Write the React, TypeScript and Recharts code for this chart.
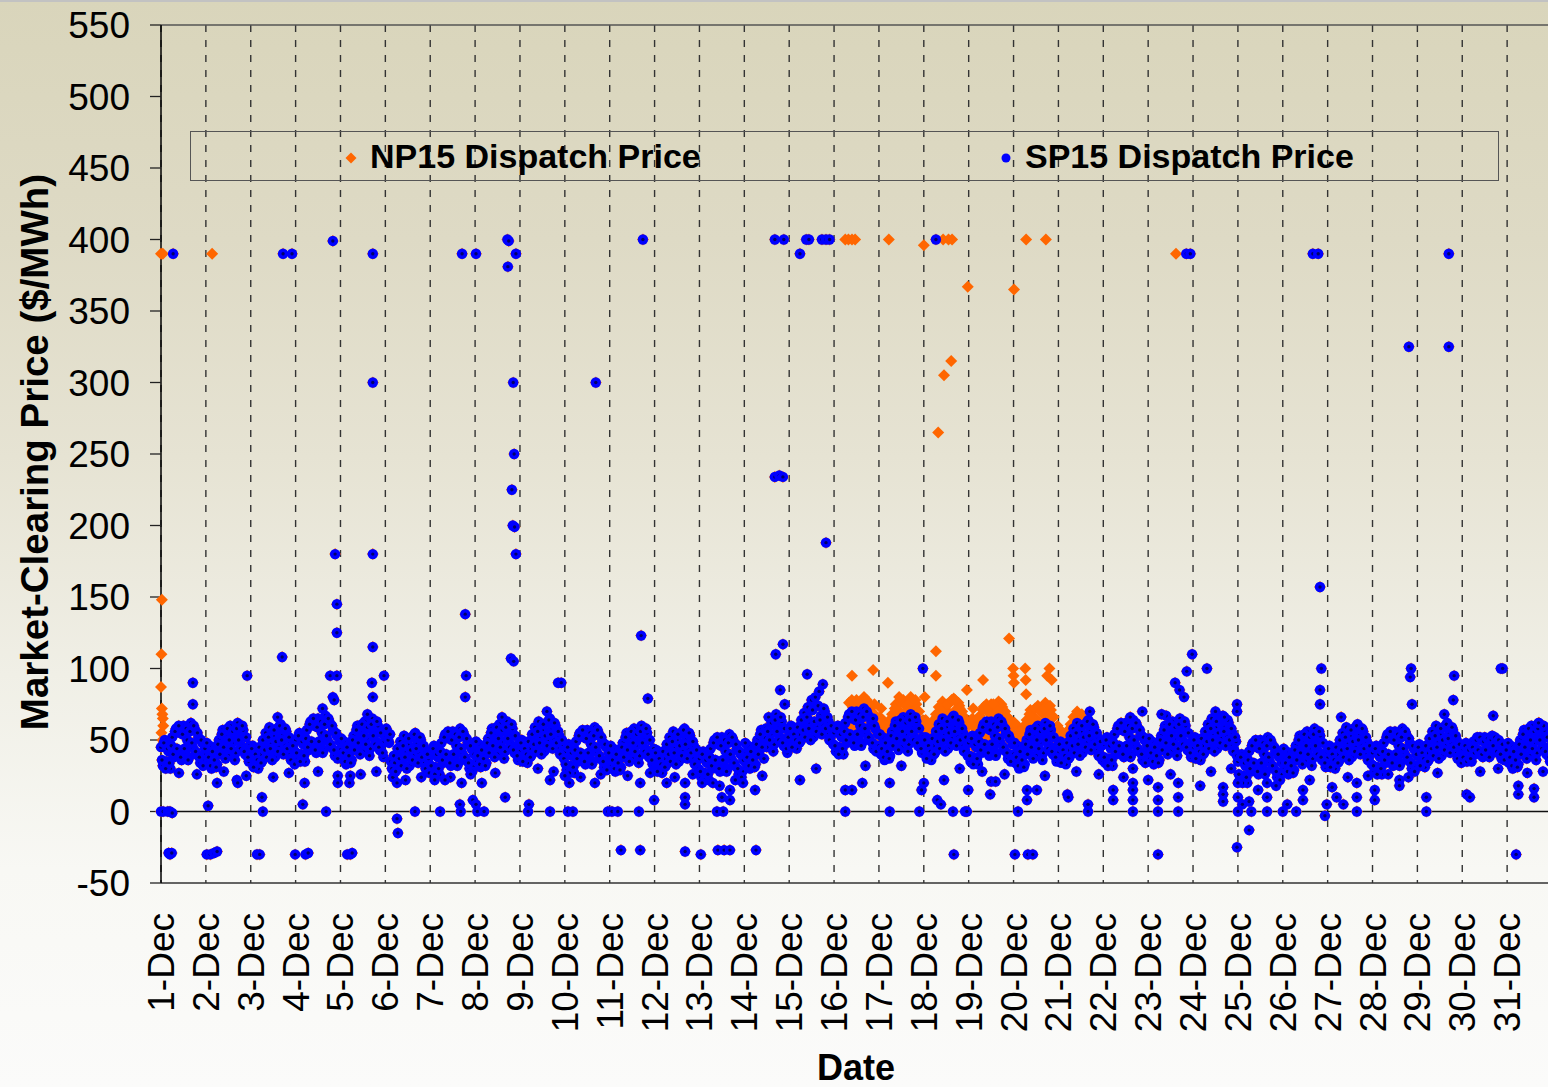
import { CartesianGrid, ReferenceLine, Scatter, ScatterChart, XAxis, YAxis } from "recharts";

const FONT = '"Liberation Sans", Arial, sans-serif';

const dayLabels = [
  "1-Dec", "2-Dec", "3-Dec", "4-Dec", "5-Dec", "6-Dec", "7-Dec", "8-Dec", "9-Dec", "10-Dec",
  "11-Dec", "12-Dec", "13-Dec", "14-Dec", "15-Dec", "16-Dec", "17-Dec", "18-Dec", "19-Dec", "20-Dec",
  "21-Dec", "22-Dec", "23-Dec", "24-Dec", "25-Dec", "26-Dec", "27-Dec", "28-Dec", "29-Dec", "30-Dec", "31-Dec",
];
const dayTicks = [1, 2, 3, 4, 5, 6, 7, 8, 9, 10, 11, 12, 13, 14, 15, 16, 17, 18, 19, 20, 21, 22, 23, 24, 25, 26, 27, 28, 29, 30, 31];
const priceTicks = [-50, 0, 50, 100, 150, 200, 250, 300, 350, 400, 450, 500, 550];

// SP15 dispatch price at the top of each hour, one row per day (hours 0..23)
const sp15OnHour: number[][] = [
  [45, 32, 50, 35, 42, 30, 52, 38, 58, 40, 55, 36, 60, 42, 50, 38, 62, 45, 58, 40, 52, 34, 48, 36],
  [40, 34, 46, 30, 38, 44, 33, 50, 42, 57, 46, 52, 39, 60, 48, 55, 41, 62, 52, 46, 57, 40, 44, 35],
  [38, 46, 33, 41, 30, 40, 35, 48, 55, 42, 59, 47, 53, 38, 58, 45, 61, 53, 47, 56, 41, 49, 37, 43],
  [50, 37, 55, 40, 47, 35, 57, 43, 63, 45, 60, 41, 65, 47, 55, 43, 67, 50, 63, 45, 57, 39, 53, 41],
  [43, 37, 49, 33, 41, 47, 36, 53, 45, 60, 49, 55, 42, 63, 51, 58, 44, 65, 55, 49, 60, 43, 47, 38],
  [52, 56, 48, 35, 24, 34, 29, 42, 49, 36, 53, 41, 47, 32, 52, 39, 55, 47, 41, 50, 35, 43, 31, 37],
  [41, 28, 46, 31, 38, 26, 48, 34, 54, 36, 51, 32, 56, 38, 46, 34, 58, 41, 54, 36, 48, 30, 44, 32],
  [41, 35, 47, 31, 39, 45, 34, 51, 43, 58, 47, 53, 40, 61, 49, 56, 42, 63, 53, 47, 58, 41, 45, 36],
  [42, 50, 37, 45, 34, 44, 39, 52, 59, 46, 63, 51, 57, 42, 62, 49, 65, 57, 51, 60, 45, 53, 41, 47],
  [42, 29, 47, 32, 39, 27, 49, 35, 55, 37, 52, 33, 57, 39, 47, 35, 59, 42, 55, 37, 49, 31, 45, 33],
  [38, 32, 44, 28, 36, 42, 31, 48, 40, 55, 44, 50, 37, 58, 46, 53, 39, 60, 50, 44, 55, 38, 42, 33],
  [35, 43, 30, 38, 27, 37, 32, 45, 52, 39, 56, 44, 50, 35, 55, 42, 58, 50, 44, 53, 38, 46, 34, 40],
  [37, 24, 42, 27, 34, 22, 44, 30, 50, 32, 47, 28, 52, 34, 42, 30, 54, 37, 50, 32, 44, 26, 40, 28],
  [40, 34, 46, 30, 38, 44, 33, 50, 42, 57, 46, 52, 45, 66, 54, 61, 47, 68, 58, 52, 63, 46, 50, 41],
  [52, 60, 47, 55, 44, 54, 49, 62, 69, 56, 73, 61, 78, 52, 80, 59, 84, 67, 61, 70, 55, 63, 51, 57],
  [55, 42, 60, 45, 52, 40, 62, 48, 68, 50, 65, 46, 70, 52, 60, 48, 72, 55, 68, 50, 62, 44, 58, 46],
  [46, 40, 52, 36, 44, 50, 39, 56, 48, 63, 52, 58, 45, 66, 54, 61, 47, 68, 58, 52, 63, 46, 50, 41],
  [44, 52, 39, 47, 36, 46, 41, 54, 61, 48, 65, 53, 59, 44, 64, 51, 67, 59, 53, 62, 47, 55, 43, 49],
  [48, 35, 53, 38, 45, 33, 55, 41, 61, 43, 58, 39, 63, 45, 53, 41, 65, 48, 61, 43, 55, 37, 51, 39],
  [40, 34, 46, 30, 38, 44, 33, 50, 42, 57, 46, 52, 39, 60, 48, 55, 41, 62, 52, 46, 57, 40, 44, 35],
  [41, 49, 36, 44, 33, 43, 38, 51, 58, 45, 62, 50, 56, 41, 61, 48, 64, 56, 50, 59, 44, 52, 40, 46],
  [47, 34, 52, 37, 44, 32, 54, 40, 60, 42, 57, 38, 62, 44, 52, 40, 64, 47, 60, 42, 54, 36, 50, 38],
  [43, 37, 49, 33, 41, 47, 36, 53, 45, 60, 49, 55, 42, 63, 51, 58, 44, 65, 55, 49, 60, 43, 47, 38],
  [44, 52, 39, 47, 36, 46, 41, 54, 61, 48, 65, 53, 59, 44, 64, 51, 67, 59, 53, 62, 47, 55, 43, 49],
  [35, 22, 40, 25, 32, 20, 42, 28, 48, 30, 45, 26, 50, 32, 40, 28, 52, 35, 48, 30, 42, 24, 38, 26],
  [36, 30, 42, 26, 34, 40, 29, 46, 38, 53, 42, 48, 35, 56, 44, 51, 37, 58, 48, 42, 53, 36, 40, 31],
  [38, 46, 33, 41, 30, 40, 35, 48, 55, 42, 59, 47, 53, 38, 58, 45, 61, 53, 47, 56, 41, 49, 37, 43],
  [41, 28, 46, 31, 38, 26, 48, 34, 54, 36, 51, 32, 56, 38, 46, 34, 58, 41, 54, 36, 48, 30, 44, 32],
  [39, 47, 34, 42, 31, 41, 36, 49, 56, 43, 60, 48, 54, 39, 59, 46, 62, 54, 48, 57, 42, 50, 38, 44],
  [44, 36, 48, 38, 42, 35, 49, 40, 52, 41, 50, 38, 52, 42, 48, 40, 53, 44, 51, 41, 48, 37, 46, 38],
  [40, 34, 46, 30, 38, 44, 33, 50, 42, 57, 46, 52, 39, 60, 48, 55, 41, 62, 52, 46, 57, 40, 44, 35],
];

// SP15 dispatch price at half past each hour
const sp15HalfHour: number[][] = [
  [36, 48, 30, 44, 34, 46, 40, 56, 44, 60, 38, 54, 44, 58, 36, 56, 48, 60, 42, 55, 38, 50, 32, 44],
  [48, 38, 32, 42, 36, 31, 47, 40, 54, 45, 37, 58, 50, 44, 56, 36, 58, 50, 44, 60, 42, 52, 38, 46],
  [44, 31, 40, 36, 45, 34, 50, 43, 38, 52, 44, 36, 57, 49, 42, 60, 50, 40, 58, 44, 52, 36, 46, 33],
  [41, 53, 35, 49, 39, 51, 45, 61, 49, 65, 43, 59, 49, 63, 41, 61, 53, 65, 47, 60, 43, 55, 37, 49],
  [51, 41, 35, 45, 39, 34, 50, 43, 57, 48, 40, 61, 53, 47, 59, 39, 61, 53, 47, 63, 45, 55, 41, 49],
  [58, 50, 54, 30, 39, 28, 44, 37, 32, 46, 38, 30, 51, 43, 36, 54, 44, 34, 52, 38, 46, 30, 40, 27],
  [32, 44, 26, 40, 30, 42, 36, 52, 40, 56, 34, 50, 40, 54, 32, 52, 44, 56, 38, 51, 34, 46, 28, 40],
  [49, 39, 33, 43, 37, 32, 48, 41, 55, 46, 38, 59, 51, 45, 57, 37, 59, 51, 45, 61, 43, 53, 39, 47],
  [48, 35, 44, 40, 49, 38, 54, 47, 42, 56, 48, 40, 61, 53, 46, 64, 54, 44, 62, 48, 56, 40, 50, 37],
  [33, 45, 27, 41, 31, 43, 37, 53, 41, 57, 35, 51, 41, 55, 33, 53, 45, 57, 39, 52, 35, 47, 29, 41],
  [46, 36, 30, 40, 34, 29, 45, 38, 52, 43, 35, 56, 48, 42, 54, 34, 56, 48, 42, 58, 40, 50, 36, 44],
  [41, 28, 37, 33, 42, 31, 47, 40, 35, 49, 41, 33, 54, 46, 39, 57, 47, 37, 55, 41, 49, 33, 43, 30],
  [28, 40, 22, 36, 26, 38, 32, 48, 36, 52, 30, 46, 36, 50, 28, 48, 40, 52, 34, 47, 30, 42, 24, 36],
  [48, 38, 32, 42, 36, 31, 47, 40, 54, 45, 37, 58, 56, 50, 62, 42, 64, 56, 50, 66, 48, 58, 44, 52],
  [58, 45, 54, 50, 59, 48, 64, 57, 52, 66, 58, 50, 71, 63, 56, 74, 64, 54, 72, 58, 66, 50, 60, 47],
  [46, 58, 40, 54, 44, 56, 50, 66, 54, 70, 48, 64, 54, 68, 46, 66, 58, 70, 52, 65, 48, 60, 42, 54],
  [54, 44, 38, 48, 42, 37, 53, 46, 60, 51, 43, 64, 56, 50, 62, 42, 64, 56, 50, 66, 48, 58, 44, 52],
  [50, 37, 46, 42, 51, 40, 56, 49, 44, 58, 50, 42, 63, 55, 48, 66, 56, 46, 64, 50, 58, 42, 52, 39],
  [39, 51, 33, 47, 37, 49, 43, 59, 47, 63, 41, 57, 47, 61, 39, 59, 51, 63, 45, 58, 41, 53, 35, 47],
  [48, 38, 32, 42, 36, 31, 47, 40, 54, 45, 37, 58, 50, 44, 56, 36, 58, 50, 44, 60, 42, 52, 38, 46],
  [47, 34, 43, 39, 48, 37, 53, 46, 41, 55, 47, 39, 60, 52, 45, 63, 53, 43, 61, 47, 55, 39, 49, 36],
  [38, 50, 32, 46, 36, 48, 42, 58, 46, 62, 40, 56, 46, 60, 38, 58, 50, 62, 44, 57, 40, 52, 34, 46],
  [51, 41, 35, 45, 39, 34, 50, 43, 57, 48, 40, 61, 53, 47, 59, 39, 61, 53, 47, 63, 45, 55, 41, 49],
  [50, 37, 46, 42, 51, 40, 56, 49, 44, 58, 50, 42, 63, 55, 48, 66, 56, 46, 64, 50, 58, 42, 52, 39],
  [26, 38, 20, 34, 24, 36, 30, 46, 34, 50, 28, 44, 34, 48, 26, 46, 38, 50, 32, 45, 28, 40, 22, 34],
  [44, 34, 28, 38, 32, 27, 43, 36, 50, 41, 33, 54, 46, 40, 52, 32, 54, 46, 40, 56, 38, 48, 34, 42],
  [44, 31, 40, 36, 45, 34, 50, 43, 38, 52, 44, 36, 57, 49, 42, 60, 50, 40, 58, 44, 52, 36, 46, 33],
  [32, 44, 26, 40, 30, 42, 36, 52, 40, 56, 34, 50, 40, 54, 32, 52, 44, 56, 38, 51, 34, 46, 28, 40],
  [45, 32, 41, 37, 46, 35, 51, 44, 39, 53, 45, 37, 58, 50, 43, 61, 51, 41, 59, 45, 53, 37, 47, 34],
  [38, 46, 35, 43, 37, 45, 41, 50, 43, 52, 40, 49, 43, 51, 38, 50, 46, 52, 42, 50, 40, 47, 36, 43],
  [48, 38, 32, 42, 36, 31, 47, 40, 54, 45, 37, 58, 50, 44, 56, 36, 58, 50, 44, 60, 42, 52, 38, 46],
];

// NP15 matches SP15 except on the congested days 16-21, where it cleared higher
const np15OnHour: number[][] = [
  [45, 32, 50, 35, 42, 30, 52, 38, 58, 40, 55, 36, 60, 42, 50, 38, 62, 45, 58, 40, 52, 34, 48, 36],
  [40, 34, 46, 30, 38, 44, 33, 50, 42, 57, 46, 52, 39, 60, 48, 55, 41, 62, 52, 46, 57, 40, 44, 35],
  [38, 46, 33, 41, 30, 40, 35, 48, 55, 42, 59, 47, 53, 38, 58, 45, 61, 53, 47, 56, 41, 49, 37, 43],
  [50, 37, 55, 40, 47, 35, 57, 43, 63, 45, 60, 41, 65, 47, 55, 43, 67, 50, 63, 45, 57, 39, 53, 41],
  [43, 37, 49, 33, 41, 47, 36, 53, 45, 60, 49, 55, 42, 63, 51, 58, 44, 65, 55, 49, 60, 43, 47, 38],
  [52, 56, 48, 35, 24, 34, 29, 42, 49, 36, 53, 41, 47, 32, 52, 39, 55, 47, 41, 50, 35, 43, 31, 37],
  [41, 28, 46, 31, 38, 26, 48, 34, 54, 36, 51, 32, 56, 38, 46, 34, 58, 41, 54, 36, 48, 30, 44, 32],
  [41, 35, 47, 31, 39, 45, 34, 51, 43, 58, 47, 53, 40, 61, 49, 56, 42, 63, 53, 47, 58, 41, 45, 36],
  [42, 50, 37, 45, 34, 44, 39, 52, 59, 46, 63, 51, 57, 42, 62, 49, 65, 57, 51, 60, 45, 53, 41, 47],
  [42, 29, 47, 32, 39, 27, 49, 35, 55, 37, 52, 33, 57, 39, 47, 35, 59, 42, 55, 37, 49, 31, 45, 33],
  [38, 32, 44, 28, 36, 42, 31, 48, 40, 55, 44, 50, 37, 58, 46, 53, 39, 60, 50, 44, 55, 38, 42, 33],
  [35, 43, 30, 38, 27, 37, 32, 45, 52, 39, 56, 44, 50, 35, 55, 42, 58, 50, 44, 53, 38, 46, 34, 40],
  [37, 24, 42, 27, 34, 22, 44, 30, 50, 32, 47, 28, 52, 34, 42, 30, 54, 37, 50, 32, 44, 26, 40, 28],
  [40, 34, 46, 30, 38, 44, 33, 50, 42, 57, 46, 52, 45, 66, 54, 61, 47, 68, 58, 52, 63, 46, 50, 41],
  [52, 60, 47, 55, 44, 54, 49, 62, 69, 56, 73, 61, 78, 52, 80, 59, 84, 67, 61, 70, 55, 63, 51, 57],
  [55, 42, 60, 45, 52, 40, 62, 48, 76, 58, 73, 54, 78, 60, 68, 56, 80, 63, 76, 58, 70, 52, 66, 54],
  [58, 52, 64, 48, 56, 62, 51, 68, 60, 75, 64, 70, 57, 78, 66, 73, 59, 80, 70, 64, 75, 58, 62, 53],
  [56, 64, 51, 59, 48, 58, 53, 66, 73, 60, 77, 65, 71, 56, 76, 63, 79, 71, 65, 74, 59, 67, 55, 61],
  [60, 47, 65, 50, 57, 45, 67, 53, 73, 55, 70, 51, 75, 57, 65, 53, 77, 60, 73, 55, 67, 49, 63, 51],
  [54, 48, 60, 44, 52, 58, 47, 64, 56, 71, 60, 66, 53, 74, 62, 69, 55, 76, 66, 60, 71, 54, 58, 49],
  [49, 57, 44, 52, 41, 51, 46, 59, 66, 53, 70, 58, 64, 49, 61, 48, 64, 56, 50, 59, 44, 52, 40, 46],
  [47, 34, 52, 37, 44, 32, 54, 40, 60, 42, 57, 38, 62, 44, 52, 40, 64, 47, 60, 42, 54, 36, 50, 38],
  [43, 37, 49, 33, 41, 47, 36, 53, 45, 60, 49, 55, 42, 63, 51, 58, 44, 65, 55, 49, 60, 43, 47, 38],
  [44, 52, 39, 47, 36, 46, 41, 54, 61, 48, 65, 53, 59, 44, 64, 51, 67, 59, 53, 62, 47, 55, 43, 49],
  [35, 22, 40, 25, 32, 20, 42, 28, 48, 30, 45, 26, 50, 32, 40, 28, 52, 35, 48, 30, 42, 24, 38, 26],
  [36, 30, 42, 26, 34, 40, 29, 46, 38, 53, 42, 48, 35, 56, 44, 51, 37, 58, 48, 42, 53, 36, 40, 31],
  [38, 46, 33, 41, 30, 40, 35, 48, 55, 42, 59, 47, 53, 38, 58, 45, 61, 53, 47, 56, 41, 49, 37, 43],
  [41, 28, 46, 31, 38, 26, 48, 34, 54, 36, 51, 32, 56, 38, 46, 34, 58, 41, 54, 36, 48, 30, 44, 32],
  [39, 47, 34, 42, 31, 41, 36, 49, 56, 43, 60, 48, 54, 39, 59, 46, 62, 54, 48, 57, 42, 50, 38, 44],
  [44, 36, 48, 38, 42, 35, 49, 40, 52, 41, 50, 38, 52, 42, 48, 40, 53, 44, 51, 41, 48, 37, 46, 38],
  [40, 34, 46, 30, 38, 44, 33, 50, 42, 57, 46, 52, 39, 60, 48, 55, 41, 62, 52, 46, 57, 40, 44, 35],
];

const np15HalfHour: number[][] = [
  [36, 48, 30, 44, 34, 46, 40, 56, 44, 60, 38, 54, 44, 58, 36, 56, 48, 60, 42, 55, 38, 50, 32, 44],
  [48, 38, 32, 42, 36, 31, 47, 40, 54, 45, 37, 58, 50, 44, 56, 36, 58, 50, 44, 60, 42, 52, 38, 46],
  [44, 31, 40, 36, 45, 34, 50, 43, 38, 52, 44, 36, 57, 49, 42, 60, 50, 40, 58, 44, 52, 36, 46, 33],
  [41, 53, 35, 49, 39, 51, 45, 61, 49, 65, 43, 59, 49, 63, 41, 61, 53, 65, 47, 60, 43, 55, 37, 49],
  [51, 41, 35, 45, 39, 34, 50, 43, 57, 48, 40, 61, 53, 47, 59, 39, 61, 53, 47, 63, 45, 55, 41, 49],
  [58, 50, 54, 30, 39, 28, 44, 37, 32, 46, 38, 30, 51, 43, 36, 54, 44, 34, 52, 38, 46, 30, 40, 27],
  [32, 44, 26, 40, 30, 42, 36, 52, 40, 56, 34, 50, 40, 54, 32, 52, 44, 56, 38, 51, 34, 46, 28, 40],
  [49, 39, 33, 43, 37, 32, 48, 41, 55, 46, 38, 59, 51, 45, 57, 37, 59, 51, 45, 61, 43, 53, 39, 47],
  [48, 35, 44, 40, 49, 38, 54, 47, 42, 56, 48, 40, 61, 53, 46, 64, 54, 44, 62, 48, 56, 40, 50, 37],
  [33, 45, 27, 41, 31, 43, 37, 53, 41, 57, 35, 51, 41, 55, 33, 53, 45, 57, 39, 52, 35, 47, 29, 41],
  [46, 36, 30, 40, 34, 29, 45, 38, 52, 43, 35, 56, 48, 42, 54, 34, 56, 48, 42, 58, 40, 50, 36, 44],
  [41, 28, 37, 33, 42, 31, 47, 40, 35, 49, 41, 33, 54, 46, 39, 57, 47, 37, 55, 41, 49, 33, 43, 30],
  [28, 40, 22, 36, 26, 38, 32, 48, 36, 52, 30, 46, 36, 50, 28, 48, 40, 52, 34, 47, 30, 42, 24, 36],
  [48, 38, 32, 42, 36, 31, 47, 40, 54, 45, 37, 58, 56, 50, 62, 42, 64, 56, 50, 66, 48, 58, 44, 52],
  [58, 45, 54, 50, 59, 48, 64, 57, 52, 66, 58, 50, 71, 63, 56, 74, 64, 54, 72, 58, 66, 50, 60, 47],
  [46, 58, 40, 54, 44, 56, 50, 66, 62, 78, 56, 72, 62, 76, 54, 74, 66, 78, 60, 73, 56, 68, 50, 62],
  [66, 56, 50, 60, 54, 49, 65, 58, 72, 63, 55, 76, 68, 62, 74, 54, 76, 68, 62, 78, 60, 70, 56, 64],
  [62, 49, 58, 54, 63, 52, 68, 61, 56, 70, 62, 54, 75, 67, 60, 78, 68, 58, 76, 62, 70, 54, 64, 51],
  [51, 63, 45, 59, 49, 61, 55, 71, 59, 75, 53, 69, 59, 73, 51, 71, 63, 75, 57, 70, 53, 65, 47, 59],
  [62, 52, 46, 56, 50, 45, 61, 54, 68, 59, 51, 72, 64, 58, 70, 50, 72, 64, 58, 74, 56, 66, 52, 60],
  [55, 42, 51, 47, 56, 45, 61, 54, 49, 63, 55, 47, 68, 60, 45, 63, 53, 43, 61, 47, 55, 39, 49, 36],
  [38, 50, 32, 46, 36, 48, 42, 58, 46, 62, 40, 56, 46, 60, 38, 58, 50, 62, 44, 57, 40, 52, 34, 46],
  [51, 41, 35, 45, 39, 34, 50, 43, 57, 48, 40, 61, 53, 47, 59, 39, 61, 53, 47, 63, 45, 55, 41, 49],
  [50, 37, 46, 42, 51, 40, 56, 49, 44, 58, 50, 42, 63, 55, 48, 66, 56, 46, 64, 50, 58, 42, 52, 39],
  [26, 38, 20, 34, 24, 36, 30, 46, 34, 50, 28, 44, 34, 48, 26, 46, 38, 50, 32, 45, 28, 40, 22, 34],
  [44, 34, 28, 38, 32, 27, 43, 36, 50, 41, 33, 54, 46, 40, 52, 32, 54, 46, 40, 56, 38, 48, 34, 42],
  [44, 31, 40, 36, 45, 34, 50, 43, 38, 52, 44, 36, 57, 49, 42, 60, 50, 40, 58, 44, 52, 36, 46, 33],
  [32, 44, 26, 40, 30, 42, 36, 52, 40, 56, 34, 50, 40, 54, 32, 52, 44, 56, 38, 51, 34, 46, 28, 40],
  [45, 32, 41, 37, 46, 35, 51, 44, 39, 53, 45, 37, 58, 50, 43, 61, 51, 41, 59, 45, 53, 37, 47, 34],
  [38, 46, 35, 43, 37, 45, 41, 50, 43, 52, 40, 49, 43, 51, 38, 50, 46, 52, 42, 50, 40, 47, 36, 43],
  [48, 38, 32, 42, 36, 31, 47, 40, 54, 45, 37, 58, 50, 44, 56, 36, 58, 50, 44, 60, 42, 52, 38, 46],
];

// Off-band intervals where both zones cleared at the same price: [day, $/MWh]
const sharedSpikes: [number, number][] = [
  [1.27, 390], [3.72, 390], [3.92, 390], [4.83, 399], [5.72, 390], [7.71, 390], [8.02, 390], [8.72, 400],
  [8.75, 399], [8.73, 381], [8.91, 390], [11.74, 400], [14.68, 400], [14.88, 400], [15.24, 390], [15.38, 400],
  [15.44, 400], [15.73, 400], [15.82, 400], [15.9, 400], [18.27, 400], [23.85, 390], [23.94, 390], [26.67, 390],
  [26.79, 390], [29.7, 390], [28.81, 325], [29.7, 325], [5.72, 300], [8.85, 300], [10.69, 300], [8.87, 250],
  [8.82, 225], [8.84, 200], [8.88, 199], [8.91, 180], [14.68, 234], [14.78, 235], [14.86, 234], [15.82, 188],
  [4.88, 180], [5.72, 180], [4.92, 145], [4.92, 125], [7.78, 138], [11.7, 123], [26.83, 157], [5.72, 115],
  [14.86, 117], [14.7, 110], [3.7, 108], [8.8, 107], [8.86, 105], [17.98, 100], [23.98, 110], [24.31, 100],
  [26.86, 100], [28.86, 100], [28.84, 94], [30.86, 100], [30.9, 100], [1.71, 90], [1.71, 75], [2.92, 95],
  [4.77, 95], [4.92, 95], [4.83, 80], [4.86, 78], [5.7, 90], [5.72, 80], [5.97, 95], [7.8, 95], [7.78, 80],
  [9.85, 90], [9.92, 90], [11.85, 79], [14.8, 85], [15.4, 96], [15.75, 89], [16.87, 65], [23.6, 90], [23.7, 85],
  [23.8, 80], [23.86, 98], [24.98, 75], [24.98, 70], [26.83, 85], [26.83, 75], [28.88, 75], [29.82, 95],
  [29.8, 78], [30.69, 67], [22.87, 70], [23.4, 67],
  [3.6, 66], [4.6, 72], [5.6, 68], [8.6, 66], [9.6, 70], [14.9, 75], [21.7, 70], [22.6, 66], [23.3, 68],
  [24.5, 70], [24.7, 66], [27.3, 66], [29.6, 68], [31.7, 62],
  [1.4, 27], [1.8, 26], [2.4, 28], [2.9, 25], [3.5, 24], [3.85, 27], [4.5, 28], [5.45, 26], [5.8, 28],
  [6.45, 22], [6.8, 24], [7.45, 24], [7.9, 26], [8.45, 27], [9.4, 30], [9.75, 28], [10.35, 24], [10.8, 26],
  [11.4, 25], [11.9, 27], [12.45, 24], [12.85, 26], [13.3, 20], [13.8, 22], [14.4, 25], [15.6, 30], [16.7, 32],
  [17.5, 32], [18.8, 30], [19.3, 28], [19.8, 26], [20.7, 25], [21.4, 28], [21.9, 26], [22.45, 24], [23.5, 26],
  [24.4, 28], [24.85, 30], [25.45, 15], [25.85, 18], [26.6, 22], [27.45, 24], [27.9, 25], [28.35, 26],
  [28.8, 24], [29.45, 27], [30.4, 28], [30.8, 30], [31.45, 27], [31.8, 28],
  [1.0, 0], [1.05, 0], [1.15, 0], [1.2, 0], [1.25, -1], [2.05, 4], [2.25, 20], [2.69, 22], [2.71, 20], [3.25, 10],
  [3.27, 0], [4.16, 5], [4.2, 20], [4.68, 0], [4.94, 20], [4.94, 25], [5.2, 20], [5.22, 25], [6.26, 20],
  [6.26, -5], [6.28, -15], [6.66, 0], [7.1, 22], [7.22, 0], [7.33, 22], [7.66, 5], [7.68, 0], [7.7, 20],
  [7.95, 8], [8.02, 5], [8.05, 0], [8.15, 20], [8.2, 0], [8.67, 10], [9.18, 0], [9.2, 5], [9.67, 0], [9.67, 22],
  [10.07, 0], [10.0, 25], [10.1, 20], [10.18, 0], [10.67, 20], [10.96, 0], [11.05, 0], [11.18, 0], [11.65, 0],
  [11.68, 20], [11.99, 8], [12.27, 20], [12.68, 10], [12.68, 5], [12.68, 20], [13.06, 20], [13.39, 0],
  [13.45, 18], [13.5, 10], [13.53, 0], [13.68, 8], [13.68, 15], [13.97, 20], [14.24, 15], [15.24, 22],
  [16.25, 0], [16.25, 15], [16.4, 15], [16.63, 20], [17.24, 0], [17.24, 20], [17.9, 0], [17.95, 15], [18.0, 20],
  [18.3, 8], [18.38, 5], [18.45, 22], [18.65, 0], [18.92, 0], [18.96, 0], [18.99, 15], [19.48, 12], [19.5, 21],
  [19.6, 21], [20.1, 0], [20.3, 15], [20.3, 8], [20.52, 15], [21.2, 12], [21.22, 10], [21.66, 5], [21.66, 0],
  [22.22, 15], [22.22, 8], [22.66, 30], [22.66, 20], [22.66, 15], [22.66, 8], [22.66, 0], [23.0, 22],
  [23.22, 17], [23.22, 8], [23.22, 0], [23.67, 20], [23.67, 10], [23.67, 0], [24.16, 18], [24.67, 17],
  [24.67, 12], [24.67, 7], [25.0, 20], [25.0, 10], [25.0, 0], [25.1, 5], [25.25, 7], [25.3, 0], [25.65, 20],
  [25.65, 10], [25.65, 0], [26.0, 0], [26.1, 5], [26.3, 0], [26.45, 15], [26.45, 8], [26.98, 5], [27.1, 17],
  [27.2, 10], [27.35, 5], [27.65, 20], [27.65, 10], [27.65, 0], [28.05, 15], [28.05, 8], [28.6, 22], [28.6, 18],
  [29.2, 10], [29.2, 0], [30.1, 12], [30.17, 10], [31.25, 18], [31.25, 12], [31.6, 16], [31.6, 10],
  [1.17, -29], [1.2, -30], [1.24, -29], [2.02, -30], [2.1, -30], [2.18, -29], [2.25, -28], [3.14, -30],
  [3.2, -30], [3.99, -30], [4.22, -30], [4.28, -29], [5.15, -30], [5.22, -30], [5.26, -29], [11.25, -27],
  [11.68, -27], [12.68, -28], [13.03, -30], [13.41, -27], [13.55, -27], [13.68, -27], [14.26, -27],
  [18.67, -30], [20.03, -30], [20.32, -30], [20.43, -30], [23.22, -30], [24.98, -25], [25.25, -13],
  [26.94, -3], [31.2, -30],
];

// Intervals where only NP15 shows (SP15 cleared lower): [day, $/MWh]
const np15OnlySpikes: [number, number][] = [
  [1.0, 390], [1.04, 390], [2.14, 390], [16.25, 400], [16.32, 400], [16.4, 400], [16.47, 400], [17.22, 400],
  [18.0, 396], [18.43, 400], [18.55, 400], [18.63, 400], [18.98, 367], [20.01, 365], [20.28, 400], [20.72, 400],
  [23.62, 390], [18.32, 265], [18.45, 305], [18.61, 315],
  [1.02, 148], [1.01, 110], [1.0, 87], [1.02, 72], [1.03, 68], [1.04, 65], [1.05, 60], [1.01, 55], [1.03, 50],
  [19.9, 121], [18.27, 112], [16.4, 95], [16.87, 99], [17.2, 90], [17.45, 80], [18.27, 95], [18.02, 80],
  [18.62, 78], [18.96, 85], [19.32, 92], [19.99, 100], [20.0, 95], [20.01, 90], [20.26, 100], [20.27, 92],
  [20.28, 82], [20.75, 95], [20.8, 100], [20.85, 92], [18.7, 78], [18.8, 72], [19.45, 72], [19.5, 68],
  [19.55, 75], [19.6, 62], [19.65, 70], [17.6, 70], [17.8, 66], [16.7, 68], [16.9, 75], [21.5, 64], [21.4, 62],
  [20.4, 65], [20.5, 64], [17.05, 72], [19.1, 72], [19.2, 65],
];

const bandPoints = (onHour: number[][], halfHour: number[][]) => [
  ...onHour.flatMap((row, d) => row.map((price, h) => ({ x: d + 1 + h / 24, y: price }))),
  ...halfHour.flatMap((row, d) => row.map((price, h) => ({ x: d + 1 + (h + 0.5) / 24, y: price }))),
];
const spikePoints = (list: [number, number][]) => list.map(([x, y]) => ({ x, y }));

const np15Data = [...bandPoints(np15OnHour, np15HalfHour), ...spikePoints(sharedSpikes), ...spikePoints(np15OnlySpikes)];
const sp15Data = [...bandPoints(sp15OnHour, sp15HalfHour), ...spikePoints(sharedSpikes)];

const ORANGE = "#ff6600";
const BLUE = "#0000ff";

function DiamondMark(props: any) {
  const { cx, cy } = props;
  if (cx == null || cy == null) return null;
  return <path d={`M${cx},${cy - 6}L${cx + 6},${cy}L${cx},${cy + 6}L${cx - 6},${cy}Z`} fill={ORANGE} />;
}

function DotMark(props: any) {
  const { cx, cy } = props;
  if (cx == null || cy == null) return null;
  return (
    <g>
      <circle cx={cx} cy={cy} r={5.2} fill={BLUE} />
      <circle cx={cx} cy={cy} r={1.7} fill="#00006a" />
    </g>
  );
}

function DateTick(props: any) {
  const { x, y, payload } = props;
  return (
    <text transform={`translate(${x + 13},${y + 30}) rotate(-90)`} textAnchor="end" fontSize={37} fontFamily={FONT} fill="#000">
      {dayLabels[payload.value - 1]}
    </text>
  );
}

export default function App() {
  return (
    <div
      style={{
        position: "absolute",
        left: 0,
        top: 0,
        width: 1548,
        height: 1087,
        overflow: "hidden",
        fontFamily: FONT,
        background: "linear-gradient(to bottom, #d9d5bb 0%, #dedac5 22%, #e6e3d3 42%, #f0efe6 62%, #f8f8f4 80%, #fbfbfa 100%)",
      }}
    >
      <div style={{ position: "absolute", left: 0, top: 0, width: 1548, height: 2, background: "#c2c2c2" }} />
      <ScatterChart width={1560} height={1087} margin={{ top: 25, right: 8, bottom: 0, left: 0 }}>
        <CartesianGrid horizontal={false} strokeDasharray="7 8" stroke="#333" strokeWidth={1.4} />
        <XAxis
          type="number"
          dataKey="x"
          domain={[1, 32]}
          ticks={dayTicks}
          interval={0}
          height={204}
          tickSize={0}
          tickMargin={0}
          tickLine={false}
          axisLine={{ stroke: "#333", strokeWidth: 1.5 }}
          tick={<DateTick />}
        />
        <YAxis
          type="number"
          dataKey="y"
          domain={[-50, 550]}
          ticks={priceTicks}
          interval={0}
          width={161}
          tickSize={11}
          tickMargin={20}
          axisLine={{ stroke: "#000", strokeWidth: 1.5 }}
          tickLine={{ stroke: "#222", strokeWidth: 1.3 }}
          tick={{ fontSize: 37, fill: "#000", fontFamily: FONT }}
        />
        <ReferenceLine y={550} stroke="#555" strokeWidth={1.5} />
        <ReferenceLine y={0} stroke="#111" strokeWidth={1.5} />
        <Scatter name="NP15 Dispatch Price" data={np15Data} shape={<DiamondMark />} isAnimationActive={false} />
        <Scatter name="SP15 Dispatch Price" data={sp15Data} shape={<DotMark />} isAnimationActive={false} />
      </ScatterChart>

      {/* legend box sits inside the plot, over the empty top band */}
      <div
        style={{
          position: "absolute",
          left: 190,
          top: 131,
          width: 1309,
          height: 50,
          boxSizing: "border-box",
          border: "1.5px solid #555",
          fontWeight: 700,
          fontSize: 34,
          color: "#000",
        }}
      >
        <svg style={{ position: "absolute", left: 153, top: 19 }} width={14} height={14}>
          <path d="M7,1.5L12.5,7L7,12.5L1.5,7Z" fill={ORANGE} />
        </svg>
        <span style={{ position: "absolute", left: 179, top: 4, lineHeight: "40px", whiteSpace: "nowrap" }}>NP15 Dispatch Price</span>
        <svg style={{ position: "absolute", left: 808, top: 19 }} width={14} height={14}>
          <circle cx={7} cy={7} r={4.5} fill={BLUE} />
        </svg>
        <span style={{ position: "absolute", left: 834, top: 4, lineHeight: "40px", whiteSpace: "nowrap" }}>SP15 Dispatch Price</span>
      </div>

      <div
        style={{
          position: "absolute",
          left: 35 - 350,
          top: 452 - 22,
          width: 700,
          height: 44,
          lineHeight: "44px",
          textAlign: "center",
          transform: "rotate(-90deg)",
          fontWeight: 700,
          fontSize: 38.5,
          color: "#000",
          whiteSpace: "nowrap",
        }}
      >
        Market-Clearing Price ($/MWh)
      </div>
      <div
        style={{
          position: "absolute",
          left: 756,
          top: 1050,
          width: 200,
          height: 36,
          lineHeight: "36px",
          textAlign: "center",
          fontWeight: 700,
          fontSize: 36,
          color: "#000",
        }}
      >
        Date
      </div>
    </div>
  );
}
